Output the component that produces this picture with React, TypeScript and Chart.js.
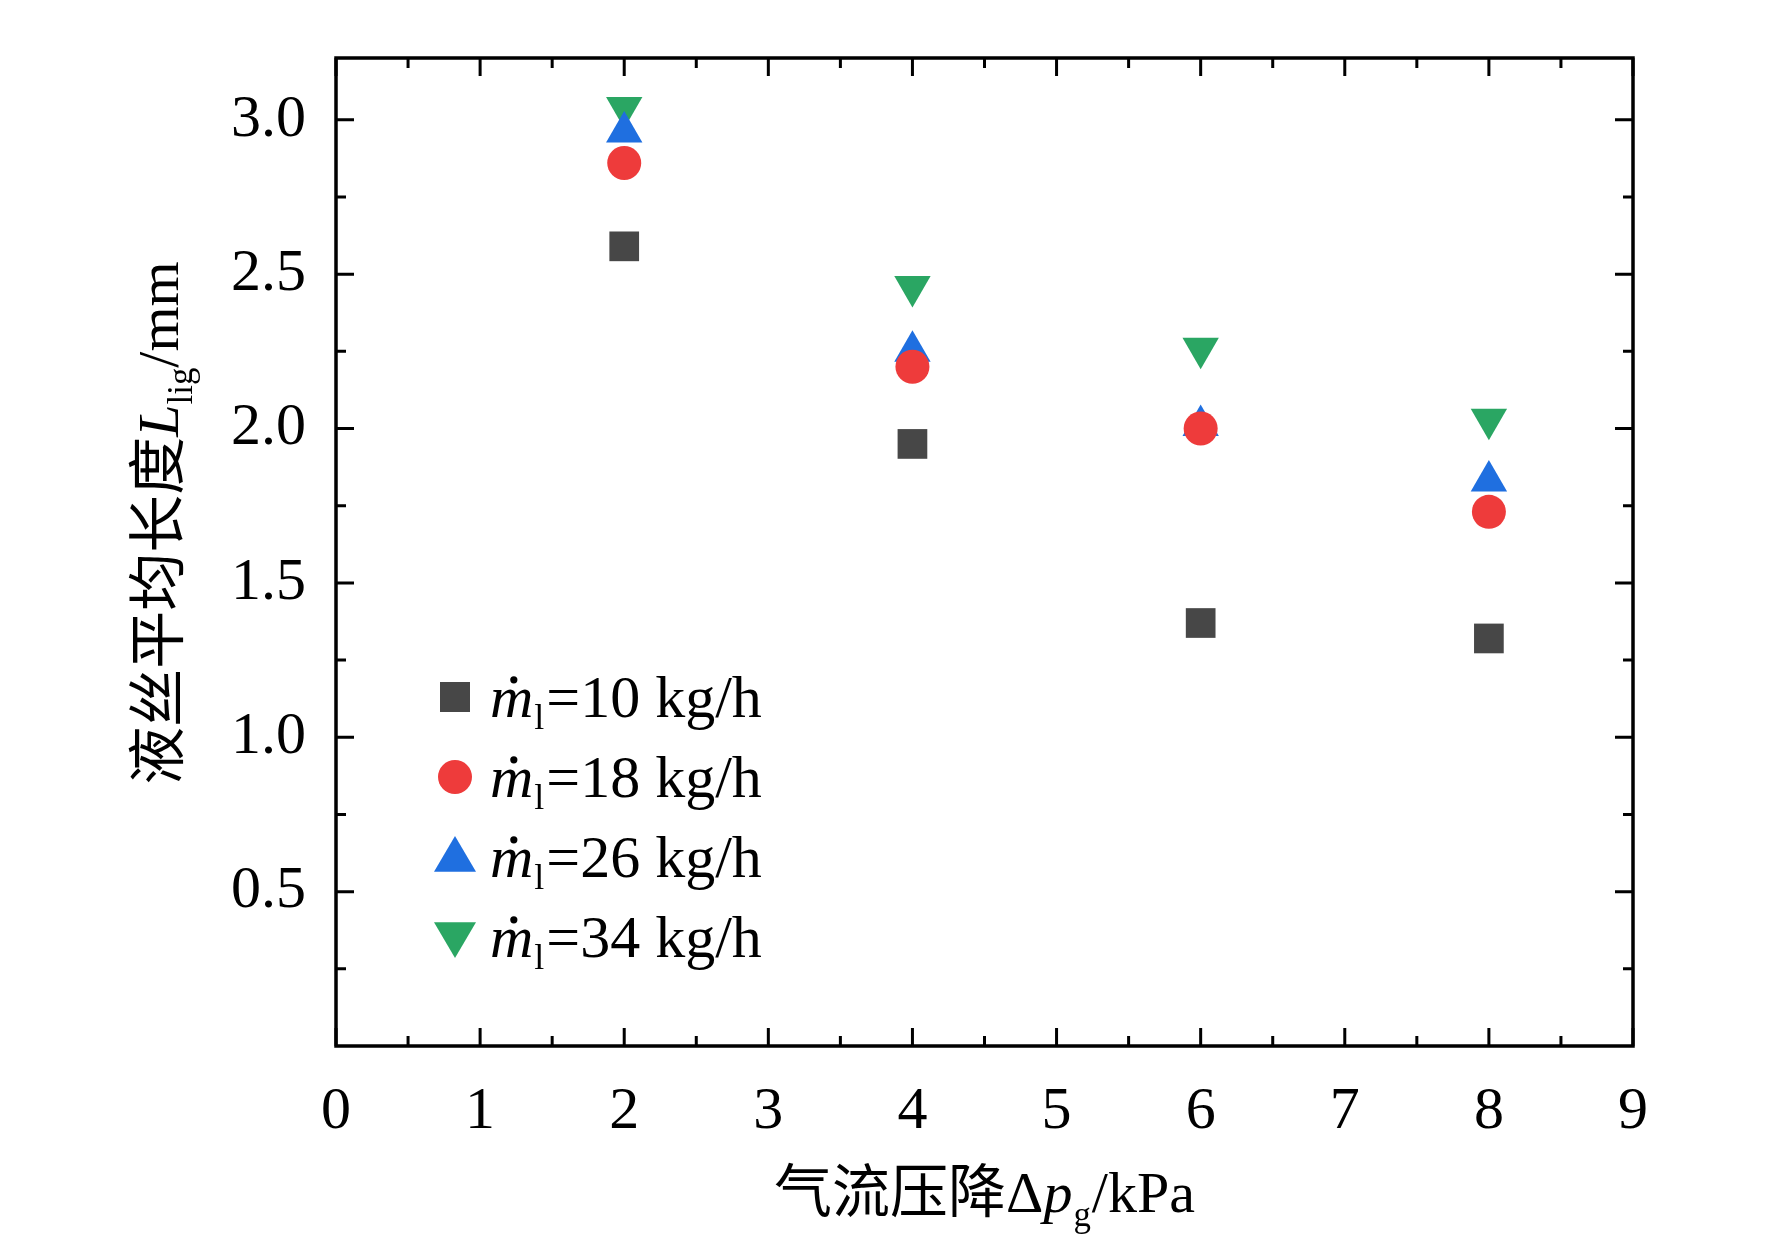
import React, { useEffect, useRef } from "react";
import { Chart, registerables } from "chart.js";
Chart.register(...registerables);

const xValues = [2, 4, 6, 8];
const series10 = [2.59, 1.95, 1.37, 1.32];
const series18 = [2.86, 2.2, 2.0, 1.73];
const series26 = [2.96, 2.25, 2.01, 1.83];
const series34 = [3.04, 2.46, 2.26, 2.03];
const seriesLabels = ["10", "18", "26", "34"];
const yTickValues = [0.5, 1.0, 1.5, 2.0, 2.5, 3.0];
const colors = ["#474747", "#ee3b3b", "#1f6fe0", "#2aa663"];
const styles: any[] = ["rect", "circle", "triangle", "triangle"];
const rotations = [0, 0, 0, 180];
const radii = [21, 17, 21, 21];

const SERIF = "'Liberation Serif', 'DejaVu Serif', serif";
const CJK = "'Noto Sans CJK SC', sans-serif";

function drawMdot(ctx: CanvasRenderingContext2D, x: number, y: number, size: number, rest: string) {
  ctx.textAlign = "left";
  ctx.textBaseline = "alphabetic";
  ctx.font = `italic ${size}px ${SERIF}`;
  ctx.fillText("m", x, y);
  const mw = ctx.measureText("m").width;
  ctx.beginPath();
  ctx.arc(x + mw * 0.55, y - size * 0.62, size * 0.06, 0, Math.PI * 2);
  ctx.fill();
  let cx = x + mw;
  ctx.font = `${size * 0.6}px ${SERIF}`;
  ctx.fillText("l", cx + 1, y + size * 0.2);
  cx += ctx.measureText("l").width + 3;
  ctx.font = `${size}px ${SERIF}`;
  ctx.fillText(rest, cx, y);
}

const deco = {
  id: "deco",
  afterDraw(chart: any) {
    const ctx = chart.ctx as CanvasRenderingContext2D;
    const { left, right, top, bottom } = chart.chartArea;
    const xs = chart.scales.x, ys = chart.scales.y;
    ctx.save();
    ctx.strokeStyle = "#000";
    ctx.fillStyle = "#000";
    ctx.lineWidth = 3.5;
    ctx.strokeRect(left, top, right - left, bottom - top);
    ctx.lineWidth = 3;
    for (let v = 0; v <= 9.001; v += 0.5) {
      const px = xs.getPixelForValue(v);
      const len = Math.abs(v - Math.round(v)) < 1e-6 ? 18 : 10;
      ctx.beginPath();
      ctx.moveTo(px, bottom); ctx.lineTo(px, bottom - len);
      ctx.moveTo(px, top); ctx.lineTo(px, top + len);
      ctx.stroke();
    }
    for (let v = 0.25; v <= 3.2; v += 0.25) {
      const py = ys.getPixelForValue(v);
      const len = Math.abs(v * 2 - Math.round(v * 2)) < 1e-6 ? 18 : 10;
      ctx.beginPath();
      ctx.moveTo(left, py); ctx.lineTo(left + len, py);
      ctx.moveTo(right, py); ctx.lineTo(right - len, py);
      ctx.stroke();
    }
    const size = 58;
    const parts: [string, string][] = [["气流压降", `${size}px ${CJK}`], ["Δ", `${size}px ${SERIF}`], ["p", `italic ${size}px ${SERIF}`]];
    let total = 0;
    parts.forEach(([t, f]) => { ctx.font = f; total += ctx.measureText(t).width; });
    ctx.font = `${size * 0.6}px ${SERIF}`; const gw = ctx.measureText("g").width;
    ctx.font = `${size}px ${SERIF}`; const kw = ctx.measureText("/kPa").width;
    total += gw + kw + 2;
    let cx = (left + right) / 2 - total / 2;
    const by = 1212;
    ctx.textBaseline = "alphabetic"; ctx.textAlign = "left";
    parts.forEach(([t, f]) => { ctx.font = f; ctx.fillText(t, cx, by); cx += ctx.measureText(t).width; });
    ctx.font = `${size * 0.6}px ${SERIF}`; ctx.fillText("g", cx + 1, by + 14); cx += gw + 2;
    ctx.font = `${size}px ${SERIF}`; ctx.fillText("/kPa", cx, by);
    ctx.save();
    ctx.translate(178, 523);
    ctx.rotate(-Math.PI / 2);
    const yparts: [string, string, number][] = [["液丝平均长度", `${size}px ${CJK}`, 0], ["L", `italic ${size}px ${SERIF}`, 0], ["lig", `${size * 0.6}px ${SERIF}`, 14], ["/mm", `${size}px ${SERIF}`, 0]];
    let tw = 0;
    yparts.forEach(([t, f]) => { ctx.font = f; tw += ctx.measureText(t).width; });
    let ox = -tw / 2;
    yparts.forEach(([t, f, dy]) => { ctx.font = f; ctx.fillText(t, ox, dy); ox += ctx.measureText(t).width; });
    ctx.restore();
    const rowsY = [717, 797, 877, 957];
    seriesLabels.forEach((lab, i) => {
      ctx.fillStyle = colors[i];
      const mx = 455, my = rowsY[i] - 20;
      const r = i === 0 ? 15 : i === 1 ? 17 : 21;
      ctx.beginPath();
      if (styles[i] === "rect") ctx.rect(mx - r, my - r, 2 * r, 2 * r);
      else if (styles[i] === "circle") ctx.arc(mx, my, r, 0, Math.PI * 2);
      else if (rotations[i] === 0) { ctx.moveTo(mx, my - r); ctx.lineTo(mx + r, my + r * 0.7); ctx.lineTo(mx - r, my + r * 0.7); ctx.closePath(); }
      else { ctx.moveTo(mx, my + r); ctx.lineTo(mx + r, my - r * 0.7); ctx.lineTo(mx - r, my - r * 0.7); ctx.closePath(); }
      ctx.fill();
      ctx.fillStyle = "#000";
      drawMdot(ctx, 490, rowsY[i], 60, `=${lab} kg/h`);
    });
    ctx.restore();
  },
};

export default function App() {
  const ref = useRef<HTMLCanvasElement>(null);
  useEffect(() => {
    const all = [series10, series18, series26, series34];
    const chart = new Chart(ref.current!, {
      type: "scatter",
      data: {
        datasets: all.map((s, i) => ({
          label: seriesLabels[i],
          data: xValues.map((x, j) => ({ x, y: s[j] })),
          backgroundColor: colors[i],
          borderColor: colors[i],
          borderWidth: 0,
          pointStyle: styles[i],
          rotation: rotations[i],
          pointRadius: radii[i],
        })),
      },
      options: {
        animation: false,
        responsive: false,
        devicePixelRatio: 1,
        layout: { padding: { left: 0, right: 139, top: 2, bottom: 0 } },
        plugins: { legend: { display: false }, tooltip: { enabled: false } },
        scales: {
          x: {
            type: "linear", min: 0, max: 9,
            grid: { display: false }, border: { display: false },
            afterFit: (s: any) => { s.height = 194; },
            ticks: { stepSize: 1, color: "#000", padding: 22, font: { family: SERIF, size: 60 } },
          },
          y: {
            type: "linear", min: 0, max: 3.2,
            grid: { display: false }, border: { display: false },
            afterFit: (s: any) => { s.width = 336; },
            afterBuildTicks: (s: any) => { s.ticks = yTickValues.map((v) => ({ value: v })); },
            ticks: {
              color: "#000", padding: 22, font: { family: SERIF, size: 60 },
              callback: (v: any) => Number(v).toFixed(1),
            },
          },
        },
      },
      plugins: [deco],
    });
    return () => chart.destroy();
  }, []);
  return <canvas ref={ref} width={1772} height={1240} style={{ position: "absolute", left: 0, top: 0 }} />;
}
